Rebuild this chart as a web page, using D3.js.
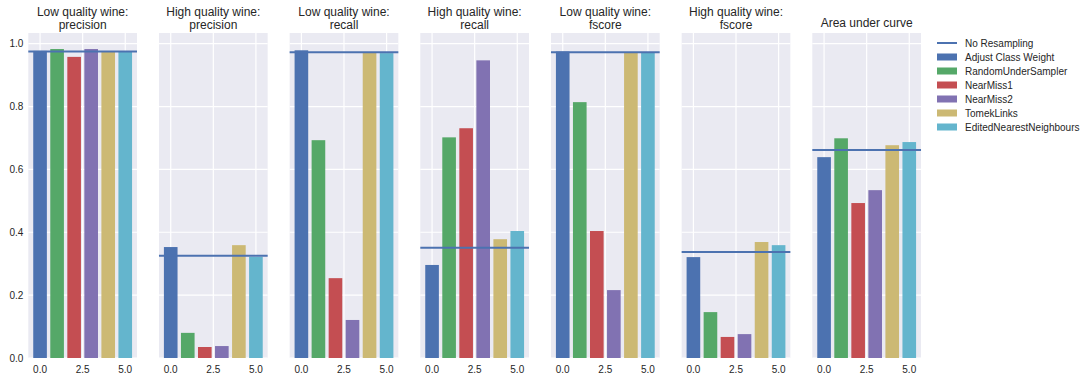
<!DOCTYPE html>
<html><head><meta charset="utf-8">
<script src="https://cdn.jsdelivr.net/npm/d3@7"></script>
<style>body{margin:0;background:#fff;}svg{display:block;font-family:"Liberation Sans",Arial,sans-serif;}</style>
</head><body>
<svg id="c" width="1090" height="382"></svg>
<script>
const titles = [["Low quality wine:","precision"],["High quality wine:","precision"],["Low quality wine:","recall"],["High quality wine:","recall"],["Low quality wine:","fscore"],["High quality wine:","fscore"],["Area under curve"]];
const methods = ["Adjust Class Weight","RandomUnderSampler","NearMiss1","NearMiss2","TomekLinks","EditedNearestNeighbours"];
const colors = ["#4C72B0","#55A868","#C44E52","#8172B2","#CCB974","#64B5CD"];
const baseline = [0.975, 0.325, 0.973, 0.351, 0.973, 0.337, 0.662];
const adjustClassWeight = [0.977, 0.353, 0.979, 0.296, 0.975, 0.321, 0.639];
const randomUnderSampler = [0.983, 0.080, 0.693, 0.702, 0.814, 0.146, 0.699];
const nearMiss1 = [0.958, 0.035, 0.254, 0.731, 0.404, 0.067, 0.493];
const nearMiss2 = [0.983, 0.038, 0.121, 0.947, 0.216, 0.076, 0.534];
const tomekLinks = [0.975, 0.359, 0.972, 0.378, 0.972, 0.369, 0.677];
const editedNN = [0.975, 0.322, 0.970, 0.404, 0.972, 0.359, 0.687];
const xTicks = [0, 2.5, 5];
const yTicks = [0, 0.2, 0.4, 0.6, 0.8, 1.0];

(function(){
const series = [adjustClassWeight, randomUnderSampler, nearMiss1, nearMiss2, tomekLinks, editedNN];
const svg = d3.select("#c");
const pTop = 33, pBottom = 358, left0 = 28.3, step = 130.67, w = 108.7;
const y = d3.scaleLinear().domain([0, 1.034]).range([pBottom, pTop]);
const textCol = "#262626";

titles.forEach((t, k) => {
  const gx = left0 + k*step;
  const g = svg.append("g").attr("transform", `translate(${gx},0)`);
  const x = d3.scaleLinear().domain([-0.69, 5.69]).range([0, w]);
  g.append("rect").attr("x",0).attr("y",pTop).attr("width",w).attr("height",pBottom-pTop).attr("fill","#EAEAF2");
  g.selectAll("line.hg").data(yTicks).enter().append("line")
    .attr("x1",0).attr("x2",w).attr("y1",d=>y(d)).attr("y2",d=>y(d)).attr("stroke","#fff").attr("stroke-width",1.2);
  g.selectAll("line.vg").data(xTicks).enter().append("line")
    .attr("y1",pTop).attr("y2",pBottom).attr("x1",d=>x(d)).attr("x2",d=>x(d)).attr("stroke","#fff").attr("stroke-width",1.2);
  series.forEach((s, i) => {
    g.append("rect").attr("x", x(i-0.4)).attr("width", x(i+0.4)-x(i-0.4))
      .attr("y", y(s[k])).attr("height", y(0)-y(s[k])).attr("fill", colors[i]);
  });
  g.append("line").attr("x1",0).attr("x2",w).attr("y1",y(baseline[k])).attr("y2",y(baseline[k]))
    .attr("stroke","#4C72B0").attr("stroke-width",2);
  g.selectAll("text.xt").data(xTicks).enter().append("text")
    .attr("x",d=>x(d)).attr("y",373).attr("text-anchor","middle").attr("font-size",10).attr("fill",textCol)
    .text(d=>d3.format(".1f")(d));
  if (k === 0) {
    g.selectAll("text.yt").data(yTicks).enter().append("text")
      .attr("x",-5).attr("y",d=>y(d)+3.5).attr("text-anchor","end").attr("font-size",10).attr("fill",textCol)
      .text(d=>d3.format(".1f")(d));
  }
  const tt = g.append("text").attr("text-anchor","middle").attr("font-size",12).attr("fill",textCol);
  if (t.length === 2) {
    tt.append("tspan").attr("x",w/2).attr("y",16).text(t[0]);
    tt.append("tspan").attr("x",w/2).attr("y",28.5).text(t[1]);
  } else {
    tt.append("tspan").attr("x",w/2).attr("y",26.5).text(t[0]);
  }
});

const lg = svg.append("g").attr("transform","translate(937,43)");
lg.append("line").attr("x1",0).attr("x2",20).attr("y1",0).attr("y2",0).attr("stroke","#4C72B0").attr("stroke-width",2);
lg.append("text").attr("x",28).attr("y",3.5).attr("font-size",10).attr("fill",textCol).text("No Resampling");
methods.forEach((m, i) => {
  const yy = 14*(i+1);
  lg.append("rect").attr("x",0).attr("y",yy-3.5).attr("width",20).attr("height",7).attr("fill",colors[i]);
  lg.append("text").attr("x",28).attr("y",yy+3.5).attr("font-size",10).attr("fill",textCol).text(m);
});
})();
</script>
</body></html>
